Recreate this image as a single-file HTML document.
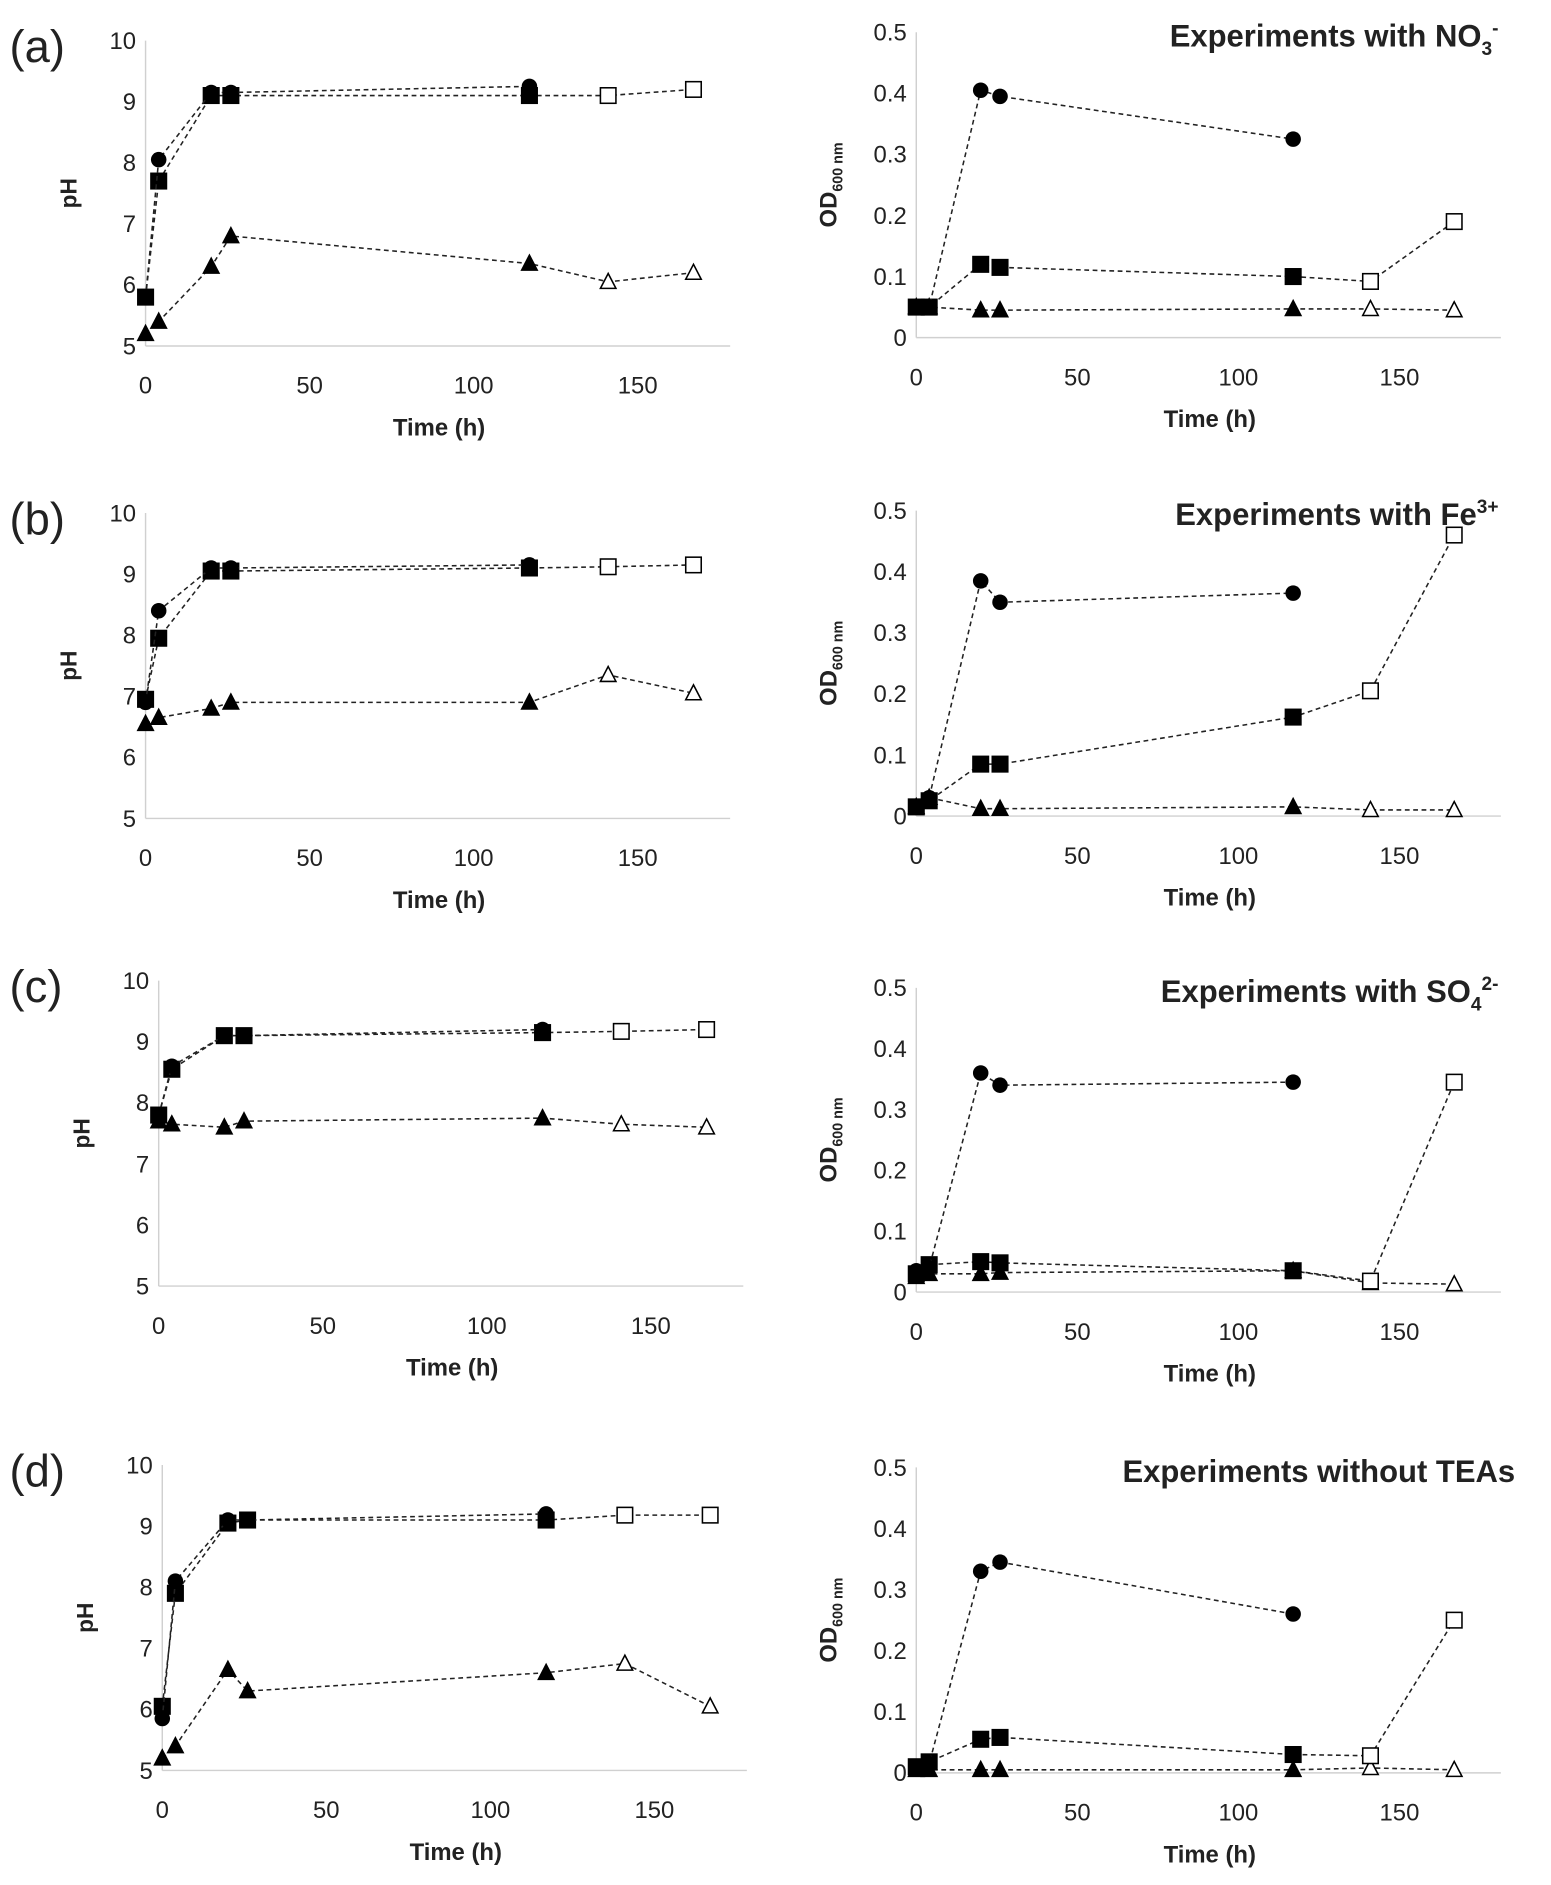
<!DOCTYPE html>
<html><head><meta charset="utf-8"><style>
html,body{margin:0;padding:0;background:#fff;}
svg{display:block;}
text{font-family:"Liberation Sans",sans-serif;fill:#222;}
</style></head><body>
<svg id="fig" width="1551" height="1885" viewBox="0 0 1300 1580" xmlns="http://www.w3.org/2000/svg"></svg>
<script>
const times = [0, 4, 20, 26, 117, 141, 167];
const xTicks = [0, 50, 100, 150];
const phTicks = [5, 6, 7, 8, 9, 10];
const odTicks = [0, 0.1, 0.2, 0.3, 0.4, 0.5];
const odTickLabels = ["0", "0.1", "0.2", "0.3", "0.4", "0.5"];
const panelLetters = ["(a)", "(b)", "(c)", "(d)"];
const titles = ["Experiments with NO", "Experiments with Fe", "Experiments with SO", "Experiments without TEAs"];
// pH series
const phCircle = [[5.8,8.05,9.15,9.15,9.25],[6.9,8.4,9.1,9.1,9.15],[7.8,8.6,9.1,9.1,9.2],[5.85,8.1,9.1,9.1,9.2]];
const phSquare = [[5.8,7.7,9.1,9.1,9.1,9.1,9.2],[6.95,7.95,9.05,9.05,9.1,9.12,9.15],[7.8,8.55,9.1,9.1,9.15,9.17,9.2],[6.05,7.9,9.05,9.1,9.1,9.18,9.18]];
const phTri = [[5.2,5.4,6.3,6.8,6.35,6.05,6.2],[6.55,6.65,6.8,6.9,6.9,7.35,7.05],[7.7,7.65,7.6,7.7,7.75,7.65,7.6],[5.2,5.4,6.65,6.3,6.6,6.75,6.05]];
// OD series
const odCircle = [[0.05,0.05,0.405,0.395,0.325],[0.015,0.03,0.385,0.35,0.365],[0.035,0.04,0.36,0.34,0.345],[0.01,0.015,0.33,0.345,0.26]];
const odSquare = [[0.05,0.05,0.12,0.115,0.1,0.092,0.19],[0.015,0.025,0.085,0.085,0.162,0.205,0.46],[0.03,0.045,0.05,0.048,0.035,0.018,0.345],[0.01,0.018,0.055,0.058,0.03,0.028,0.25]];
const odTri = [[0.05,0.05,0.045,0.045,0.047,0.047,0.045],[0.015,0.03,0.012,0.012,0.015,0.01,0.01],[0.025,0.03,0.03,0.032,0.035,0.015,0.013],[0.005,0.005,0.005,0.005,0.005,0.008,0.005]];

const NS="http://www.w3.org/2000/svg";
const svg=document.getElementById('fig');
function mk(tag,attrs,parent){const e=document.createElementNS(NS,tag);for(const k in attrs)e.setAttribute(k,attrs[k]);(parent||svg).appendChild(e);return e;}

const leftAx=[{x0:122,top:34,bot:290},{x0:122,top:430,bot:686},{x0:133,top:822,bot:1078},{x0:136,top:1228,bot:1484}];
const rightAx=[{x0:768,top:27,bot:283},{x0:768,top:428,bot:684},{x0:768,top:828,bot:1083},{x0:768,top:1230,bot:1486}];

function marker(g,type,x,y,filled){
  let m;
  if(type==='circle') m=mk('circle',{cx:x,cy:y,r:6.5,fill:'#000'},g);
  else if(type==='square') m=mk('rect',{x:x-6.5,y:y-6.5,width:13,height:13,fill:filled?'#000':'#fff',stroke:'#000','stroke-width':1.3},g);
  else m=mk('polygon',{points:`${x},${y-7} ${x-6.5},${y+5.5} ${x+6.5},${y+5.5}`,fill:filled?'#000':'#fff',stroke:'#000','stroke-width':1.3},g);
  return m;
}
function series(g,vals,type,xf,yf,name){
  const sg=mk('g',{},g);
  
  
  const pts=vals.map((v,i)=>[xf(times[i]),yf(v)]);
  mk('polyline',{points:pts.map(p=>p.join(',')).join(' '),fill:'none',stroke:'#222','stroke-width':1.3,'stroke-dasharray':'4,3'},sg);
  pts.forEach((p,i)=>{const m=marker(sg,type,p[0],p[1],type==='circle'||i<5);
    
    });
}
function panel(ax,isPH,idx){
  const g=mk('g',{});
  
  
  const xEnd=ax.x0+490;
  const pxh=isPH?2.75:2.7;
  const xf=t=>ax.x0+t*pxh;
  const ymin=isPH?5:0, ymax=isPH?10:0.5;
  const yf=v=>ax.bot-(v-ymin)/(ymax-ymin)*(ax.bot-ax.top);
  mk('line',{x1:ax.x0,y1:ax.top,x2:ax.x0,y2:ax.bot,stroke:'#d0d0d0','stroke-width':1.2},g);
  mk('line',{x1:ax.x0,y1:ax.bot,x2:xEnd,y2:ax.bot,stroke:'#d0d0d0','stroke-width':1.2},g);
  const ticks=isPH?phTicks:odTicks;
  ticks.forEach((v,i)=>{const t=mk('text',{x:ax.x0-8,y:yf(v)+7,'text-anchor':'end','font-size':20,fill:'#333'},g);
    t.textContent=isPH?String(v):odTickLabels[i];
    
    });
  xTicks.forEach(v=>{const t=mk('text',{x:xf(v),y:ax.bot+40,'text-anchor':'middle','font-size':20,fill:'#333'},g);
    t.textContent=String(v);
    
    });
  const xt=mk('text',{x:ax.x0+246,y:ax.bot+75,'text-anchor':'middle','font-size':20,'font-weight':'bold'},g);
  xt.textContent='Time (h)';
  
  
  const my=(ax.top+ax.bot)/2;
  const yt=mk('text',{x:0,y:0,'text-anchor':'middle','font-size':isPH?19:20,'font-weight':'bold',transform:`translate(${isPH?ax.x0-58:ax.x0-67},${my}) rotate(-90)`},g);
  if(isPH){yt.textContent='pH';}else{yt.textContent='OD';const s=mk('tspan',{'font-size':12,dy:5},yt);s.textContent='600 nm';}
  
  
  const tri=isPH?phTri[idx]:odTri[idx], sq=isPH?phSquare[idx]:odSquare[idx], ci=isPH?phCircle[idx]:odCircle[idx];
  series(g,tri,'tri',xf,yf,'series-triangle');
  series(g,sq,'square',xf,yf,'series-square');
  series(g,ci,'circle',xf,yf,'series-circle');
}
for(let i=0;i<4;i++){
  panel(leftAx[i],true,i);
  panel(rightAx[i],false,i);
  const l=mk('text',{x:8,y:leftAx[i].top+18,'font-size':38},svg);
  l.textContent=panelLetters[i];
  
  
  const t=mk('text',{x:i===3?1270:1256,y:rightAx[i].top+12,'text-anchor':'end','font-size':26,'font-weight':'bold'},svg);
  t.textContent=titles[i];
  if(i===0){const s=mk('tspan',{'font-size':16,dy:7},t);s.textContent='3';const s2=mk('tspan',{'font-size':16,dy:-17},t);s2.textContent='-';}
  if(i===1){const s=mk('tspan',{'font-size':16,dy:-10},t);s.textContent='3+';}
  if(i===2){const s=mk('tspan',{'font-size':16,dy:7},t);s.textContent='4';const s2=mk('tspan',{'font-size':16,dy:-17},t);s2.textContent='2-';}
  
  
}
</script>
</body></html>
